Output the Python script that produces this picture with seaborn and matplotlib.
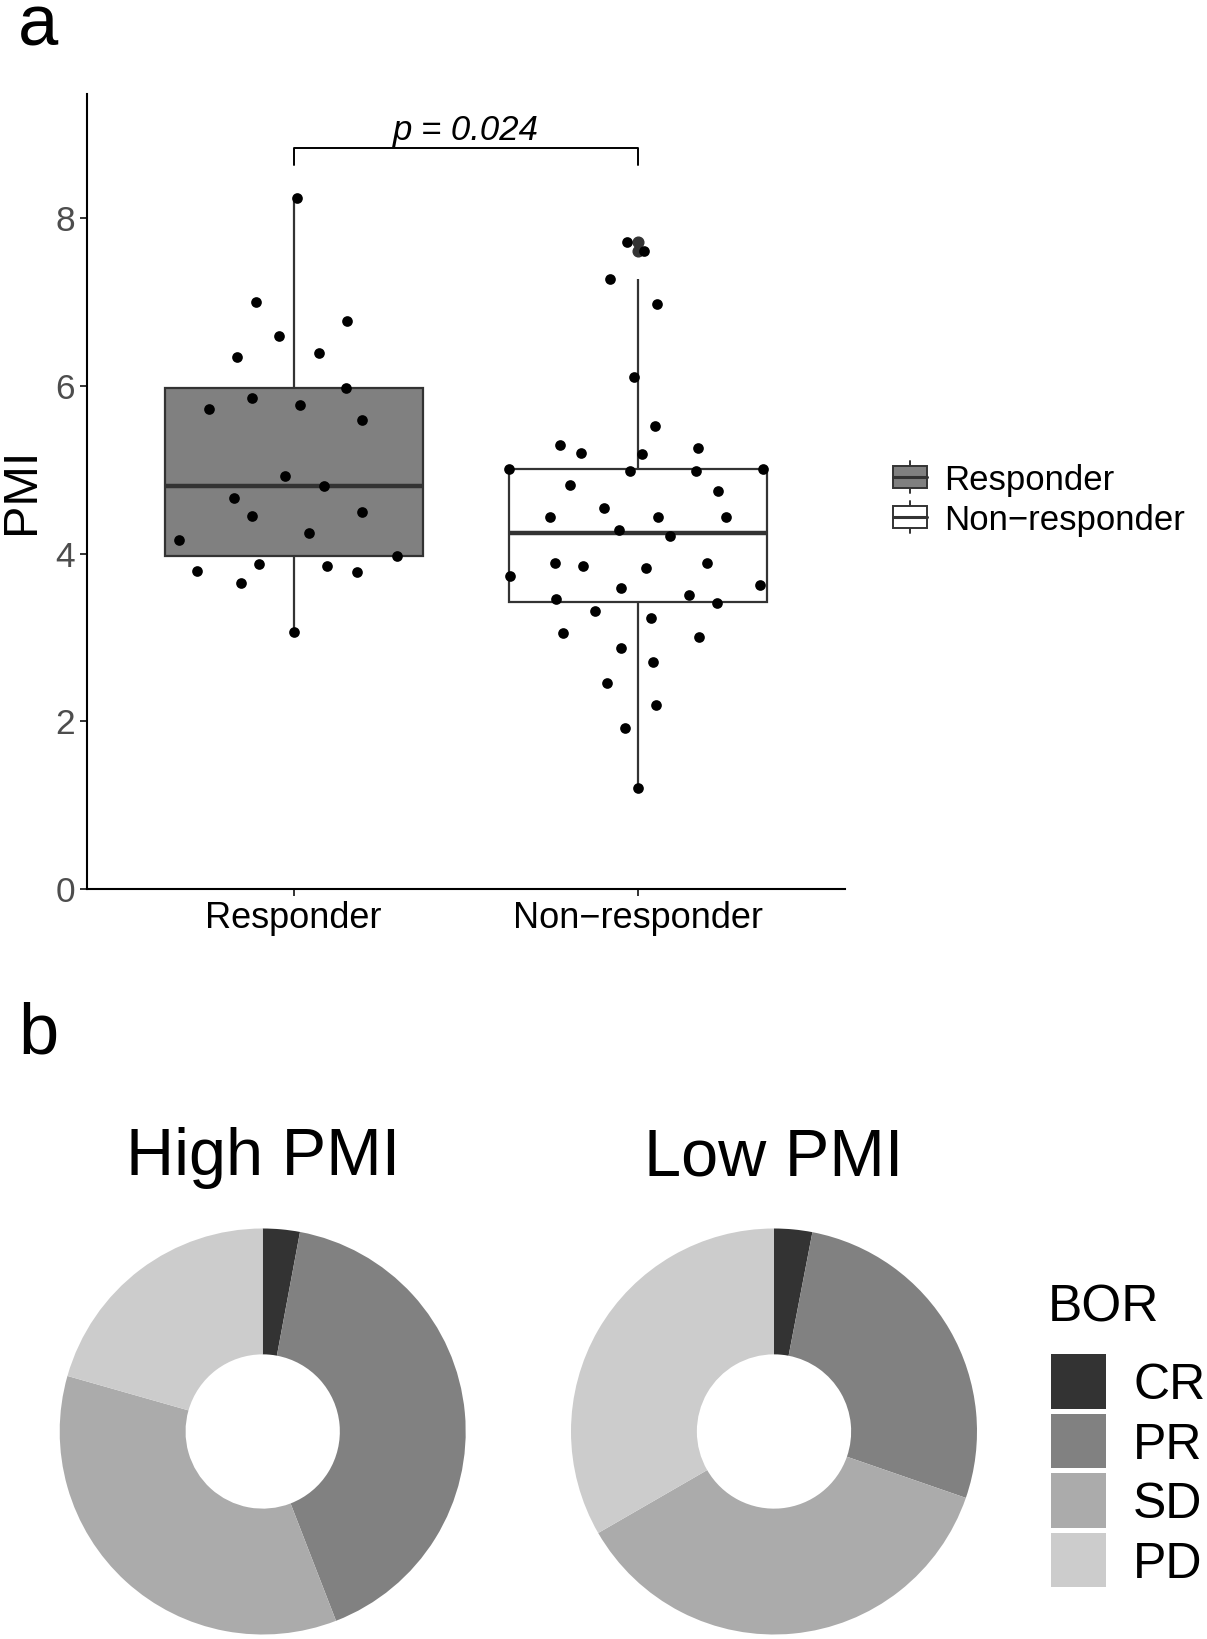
import numpy as np
import pandas as pd
import matplotlib
matplotlib.use("Agg")
import matplotlib.pyplot as plt
from matplotlib.patches import Rectangle
import seaborn as sns

# --- data ---
groups = ["Responder", "Non\u2212responder"]
box_colors = ["#808080", "#FFFFFF"]

responder_pmi = [8.24, 7.00, 6.77, 6.60, 6.39, 6.34, 5.97, 5.86, 5.72, 5.77, 5.59,
                 4.93, 4.81, 4.66, 4.45, 4.49, 4.24, 4.16, 3.97, 3.79, 3.88, 3.85,
                 3.78, 3.65, 3.06]
responder_jitter = [0.010, -0.110, 0.156, -0.042, 0.073, -0.164, 0.153, -0.122, -0.247,
                    0.017, 0.197, -0.026, 0.088, -0.173, -0.120, 0.197, 0.045, -0.333,
                    0.301, -0.280, -0.100, 0.097, 0.184, -0.154, 0.000]

nonresponder_pmi = [5.52, 5.29, 5.20, 5.19, 5.26, 5.01, 4.99, 4.98, 5.01, 4.82, 4.75,
                    4.44, 4.54, 4.44, 4.43, 4.28, 4.21, 3.89, 3.85, 3.83, 3.89, 3.73,
                    3.59, 3.62, 3.46, 3.50, 3.41, 3.31, 3.23, 3.05, 3.00, 2.87, 2.71,
                    2.46, 2.19, 1.92, 1.20, 6.10, 6.98, 7.27, 7.71, 7.61]
nonresponder_jitter = [0.049, -0.226, -0.166, 0.011, 0.172, -0.375, -0.024, 0.168, 0.362,
                       -0.197, 0.231, -0.255, -0.100, 0.058, 0.254, -0.056, 0.092, -0.241,
                       -0.161, 0.023, 0.199, -0.371, -0.050, 0.352, -0.238, 0.146, 0.228,
                       -0.126, 0.038, -0.219, 0.176, -0.051, 0.043, -0.092, 0.052, -0.038,
                       0.000, -0.011, 0.055, -0.081, -0.034, 0.017]

p_label = "p = 0.024"

bor_levels = ["CR", "PR", "SD", "PD"]
bor_colors = ["#333333", "#818181", "#ABABAB", "#CCCCCC"]
high_counts = [1, 14, 12, 7]
low_counts = [1, 9, 12, 11]
pie_titles = ["High PMI", "Low PMI"]

df = pd.DataFrame({
    "group": [groups[0]] * len(responder_pmi) + [groups[1]] * len(nonresponder_pmi),
    "PMI": responder_pmi + nonresponder_pmi,
    "jitter": responder_jitter + nonresponder_jitter,
})
df["xpos"] = df["group"].map({g: i for i, g in enumerate(groups)}) + df["jitter"]

# --- style ---
sns.set_theme(style="ticks")
plt.rcParams["font.family"] = ["Liberation Sans", "DejaVu Sans"]
plt.rcParams["text.color"] = "black"

W, H = 1207, 1639
fig = plt.figure(figsize=(W / 100, H / 100), dpi=100)

# panel a: boxplot + points
ax = fig.add_axes([87 / W, 1 - 889 / H, (845 - 87) / W, (889 - 94) / H])
sns.boxplot(data=df, x="group", y="PMI", hue="group", order=groups, hue_order=groups,
            palette=dict(zip(groups, box_colors)), saturation=1, width=0.75,
            linecolor="#333333", linewidth=1.6, showcaps=False, fliersize=7.7,
            flierprops=dict(marker="o", markerfacecolor="#333333", markeredgecolor="#333333"),
            medianprops=dict(linewidth=3.2), legend=False, ax=ax)
sns.scatterplot(data=df, x="xpos", y="PMI", color="black", s=59, linewidth=0,
                legend=False, ax=ax, zorder=4)

ax.plot([0, 0, 1, 1], [8.63, 8.84, 8.84, 8.63], color="black", lw=1.4)
ax.text(0.5, 8.93, p_label, style="italic", fontsize=25, ha="center", va="baseline")

ax.set_xlim(-0.6, 1.6)
ax.set_ylim(0, 9.48)
ax.set_yticks([0, 2, 4, 6, 8])
ax.set_xticks([0, 1])
ax.set_xticklabels(groups)
ax.set_xlabel("")
ax.set_ylabel("")
sns.despine(ax=ax)
for s in ["left", "bottom"]:
    ax.spines[s].set_linewidth(1.5)
    ax.spines[s].set_color("black")
ax.tick_params(axis="both", length=5, width=1.4, color="#333333", pad=3.5)
ax.tick_params(axis="x", labelsize=26, labelcolor="black")
ax.tick_params(axis="y", labelsize=25.5, labelcolor="#4D4D4D")

# panel b: donut charts
centers = [(262.7, 1431.5), (774.0, 1431.5)]
r = 203
for title, counts, (cx, cy) in zip(pie_titles, [high_counts, low_counts], centers):
    pax = fig.add_axes([(cx - r) / W, 1 - (cy + r) / H, 2 * r / W, 2 * r / H])
    pax.pie(counts, colors=bor_colors, startangle=90, counterclock=False, radius=1,
            wedgeprops=dict(width=0.62, linewidth=0))
    pax.set_xlim(-1, 1)
    pax.set_ylim(-1, 1)

# overlay for labels and legends (pixel coordinates)
ov = fig.add_axes([0, 0, 1, 1], zorder=10)
ov.set_xlim(0, W)
ov.set_ylim(H, 0)
ov.axis("off")

ov.text(18, 45, "a", fontsize=52, va="baseline", ha="left")
ov.text(18, 1054, "b", fontsize=52, va="baseline", ha="left")
ov.text(21, 491, "PMI", fontsize=35, rotation=90, ha="center", va="center")

for title, (cx, cy) in zip(pie_titles, centers):
    ov.text(cx, 1175, title, fontsize=48, ha="center", va="baseline")

# legend for panel a
for i, (g, c) in enumerate(zip(groups, box_colors)):
    yc = 477 + 40 * i
    ov.plot([910, 910], [yc - 16, yc + 16], color="#333333", lw=1.4, zorder=2)
    ov.add_patch(Rectangle((893, yc - 11), 34, 22, facecolor=c, edgecolor="#333333",
                           lw=1.4, zorder=3))
    ov.plot([893, 927], [yc, yc], color="#333333", lw=2.2, zorder=4)
    ov.text(944, yc + 13, g, fontsize=25, va="baseline", ha="left")

# legend for panel b
ov.text(1048, 1321.7, "BOR", fontsize=37, va="baseline", ha="left")
for i, (lev, c) in enumerate(zip(bor_levels, bor_colors)):
    top = 1354.3 + 59.5 * i
    ov.add_patch(Rectangle((1051, top), 55, 54.5, facecolor=c, edgecolor="none"))
    ov.text(1133, top + 45, lev, fontsize=36, va="baseline", ha="left")

fig.savefig("out.png", dpi=100)
